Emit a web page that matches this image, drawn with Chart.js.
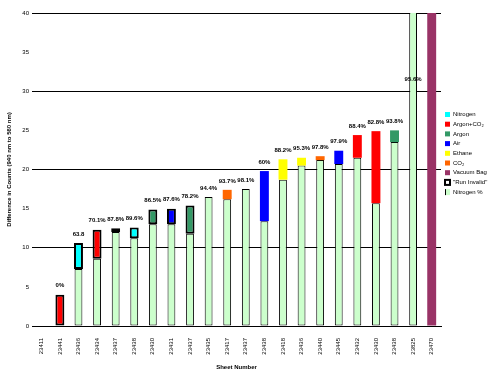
<!DOCTYPE html>
<html>
<head>
<meta charset="utf-8">
<script src="https://cdn.jsdelivr.net/npm/chart.js@4/dist/chart.umd.min.js"></script>
<style>
html,body{margin:0;padding:0;background:#fff;}
#wrap{width:500px;height:375px;}
</style>
</head>
<body>
<div id="wrap"><canvas id="c" width="500" height="375"></canvas></div>
<script>
const categories = ['23411','23441','23436','23434','23437','23438','23430','23431','23437','23435','23417','23437','23438','23418','23436','23440','23445','23432','23430','23438','23825','23470'];
// height of the light-green "Nitrogen %" bar
const nitrogenBase = [0, 0, 7.3, 8.6, 12.0, 11.2, 13.0, 13.0, 11.8, 16.5, 16.2, 17.5, 13.4, 18.7, 20.5, 21.2, 20.7, 21.5, 15.7, 23.5, 45, 0];
// top of the coloured gas segment (segment runs from nitrogenBase to gasTop)
const gasTop = [null, 4.0, 10.6, 12.3, 12.5, 12.6, 14.9, 15.0, 15.4, null, 17.4, null, 19.8, 21.3, 21.5, 21.7, 22.4, 24.4, 24.9, 25.0, null, 45];
const gasType = [null, 'Argon+CO₂', 'Nitrogen', 'Argon+CO₂', 'Nitrogen', 'Nitrogen', 'Argon', 'Air', 'Argon', null, 'CO₂', null, 'Air', 'Ethane', 'Ethane', 'CO₂', 'Air', 'Argon+CO₂', 'Argon+CO₂', 'Argon', null, 'Vacuum Bag'];
const invalidRun = [false, true, true, true, true, true, true, true, true, false, false, false, false, false, false, false, false, false, false, false, false, false];
const pctLabels = ['', '0%', '63.8', '70.1%', '87.8%', '89.6%', '86.5%', '87.6%', '78.2%', '94.4%', '93.7%', '98.1%', '60%', '88.2%', '95.3%', '97.8%', '97.9%', '88.4%', '82.8%', '93.8%', '95.6%', ''];
const gasNames = ['Nitrogen', 'Argon+CO₂', 'Argon', 'Air', 'Ethane', 'CO₂', 'Vacuum Bag'];
const yTicks = [0, 5, 10, 15, 20, 25, 30, 35, 40];

const gasColors = {'Nitrogen':'#00FFFF','Argon+CO₂':'#FF0000','Argon':'#339966','Air':'#0000FF','Ethane':'#FFFF00','CO₂':'#FF6600','Vacuum Bag':'#993366'};
const FONT = 'Liberation Sans, Arial, sans-serif';

const datasets = gasNames.map(g => ({
  label: g,
  data: categories.map((c, i) => gasType[i] === g ? [nitrogenBase[i], gasTop[i]] : null),
  backgroundColor: gasColors[g],
  borderColor: '#000',
  borderWidth: ctx => invalidRun[ctx.dataIndex] ? 2 : 0,
  borderSkipped: false,
  barPercentage: 0.48,
  categoryPercentage: 1
}));
datasets.push({
  label: '"Run Invalid"',
  data: categories.map(() => null),
  backgroundColor: '#FFFFFF',
  borderColor: '#000',
  borderWidth: 2,
  barPercentage: 0.48,
  categoryPercentage: 1
});
datasets.push({
  label: 'Nitrogen %',
  data: nitrogenBase.slice(),
  backgroundColor: '#CCFFCC',
  borderColor: '#000',
  borderWidth: 1,
  borderSkipped: false,
  barPercentage: 0.42,
  categoryPercentage: 1
});

const pctPlugin = {
  id: 'pct',
  afterDatasetsDraw(chart) {
    const ctx = chart.ctx, xs = chart.scales.x, ys = chart.scales.y;
    ctx.save();
    ctx.font = 'bold 6px ' + FONT;
    ctx.fillStyle = '#000';
    ctx.textAlign = 'center';
    ctx.textBaseline = 'middle';
    categories.forEach((c, i) => {
      if (!pctLabels[i]) return;
      let top = Math.max(nitrogenBase[i] || 0, gasTop[i] || 0);
      let y;
      if (top > ys.max) y = ys.getPixelForValue(ys.max - 8.5);
      else y = ys.getPixelForValue(top) - 9;
      ctx.fillText(pctLabels[i], xs.getPixelForValue(i), y);
    });
    ctx.restore();
  }
};

const legendPlugin = {
  id: 'customLegend',
  afterDraw(chart) {
    const ctx = chart.ctx;
    ctx.save();
    ctx.font = '6px ' + FONT;
    ctx.textBaseline = 'middle';
    ctx.textAlign = 'left';
    const x0 = 445, y0 = 114.5, step = 9.7;
    chart.data.datasets.forEach((ds, k) => {
      const y = y0 + k * step;
      ctx.fillStyle = ds.backgroundColor;
      if (ds.label === '"Run Invalid"') {
        ctx.fillStyle = '#000';
        ctx.fillRect(x0 - 1, y - 3.5, 7, 7);
        ctx.fillStyle = '#fff';
        ctx.fillRect(x0 + 1, y - 1.5, 3, 3);
      } else if (ds.label === 'Nitrogen %') {
        ctx.fillRect(x0, y - 3, 5, 6);
        ctx.fillStyle = '#000';
        ctx.fillRect(x0, y - 3, 1, 6);
      } else {
        ctx.fillRect(x0, y - 2.5, 5, 5);
      }
      ctx.fillStyle = '#000';
      ctx.fillText(ds.label, x0 + 8, y);
    });
    ctx.restore();
  }
};

new Chart(document.getElementById('c'), {
  type: 'bar',
  data: { labels: categories, datasets: datasets },
  plugins: [pctPlugin, legendPlugin],
  options: {
    responsive: false,
    animation: false,
    layout: { padding: { left: 0, right: 59, top: 13, bottom: 0 } },
    plugins: { legend: { display: false }, tooltip: { enabled: false } },
    scales: {
      x: {
        stacked: true,
        grid: { display: false },
        border: { display: true, color: '#000', width: 1 },
        ticks: { autoSkip: false, maxRotation: 90, minRotation: 90, color: '#000', font: { size: 6, family: FONT }, padding: 4 },
        title: { display: true, text: 'Sheet Number', color: '#000', font: { size: 6, weight: 'bold', family: FONT }, padding: { top: 8, bottom: 4 } },
        afterFit: s => { s.height = 49; }
      },
      y: {
        stacked: false,
        min: 0, max: 40,
        afterBuildTicks: s => { s.ticks = yTicks.map(v => ({ value: v })); },
        ticks: { color: '#000', font: { size: 6, family: FONT }, padding: 3 },
        grid: { color: ctx => (ctx.tick && ctx.tick.value % 10 === 0) ? '#000' : 'rgba(0,0,0,0)', lineWidth: 1, drawTicks: false },
        border: { display: false },
        title: { display: true, text: 'Difference in Counts (940 nm to 560 nm)', color: '#000', font: { size: 6, weight: 'bold', family: FONT }, padding: { top: 6, bottom: 0 } },
        afterFit: s => { s.width = 32; }
      }
    }
  }
});
</script>
</body>
</html>
